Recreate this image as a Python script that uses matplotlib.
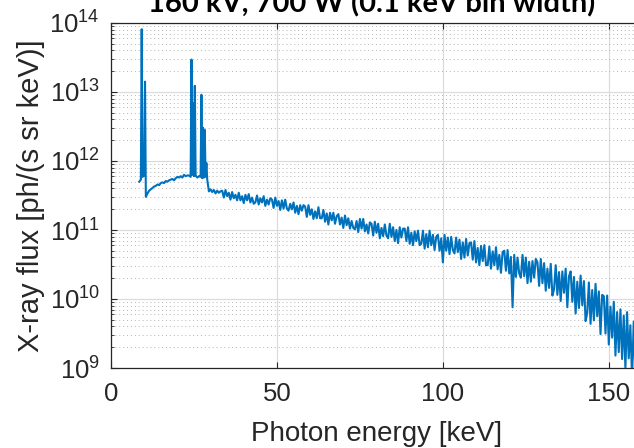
import numpy as np
import matplotlib
matplotlib.use("Agg")
import matplotlib.pyplot as plt
from matplotlib.ticker import LogLocator, NullFormatter

# ---------------- data ----------------
title_text = "160 kV, 700 W (0.1 keV bin width)"
x_label = "Photon energy [keV]"
y_label = "X-ray flux [ph/(s sr keV)]"
x_ticks = [0, 50, 100, 150]
x_limits = (0, 160)
y_limits = (1e9, 1e14)

# continuum bins (log10 of flux)
bin_start_kev = 8.5
bin_step_kev = 0.5
continuum_log_flux = [
    11.70, 11.73, 11.77, 11.79, 11.48, 11.53, 11.57, 11.59, 11.61, 11.63,   # 8.5-13
    11.64, 11.66, 11.65, 11.68, 11.69, 11.68, 11.71, 11.70, 11.72, 11.73,   # 13.5-18
    11.74, 11.72, 11.75, 11.77, 11.76, 11.78, 11.76, 11.80, 11.78, 11.79,   # 18.5-23
    11.79, 11.77, 11.80, 11.78, 11.79, 11.76, 11.78, 11.77, 11.75, 11.76,   # 23.5-28
    11.77, 11.73, 11.56, 11.59, 11.55, 11.58, 11.53, 11.57, 11.54, 11.56,   # 28.5-33
    11.57, 11.47, 11.58, 11.49, 11.54, 11.44, 11.55, 11.46, 11.51, 11.43,   # 33.5-38
    11.54, 11.43, 11.49, 11.39, 11.51, 11.43, 11.52, 11.40, 11.47, 11.38,   # 38.5-43
    11.40, 11.50, 11.37, 11.46, 11.40, 11.49, 11.35, 11.44, 11.37, 11.46,   # 43.5-48
    11.44, 11.32, 11.47, 11.35, 11.42, 11.29, 11.43, 11.31, 11.44, 11.31,   # 48.5-53
    11.28, 11.38, 11.30, 11.40, 11.25, 11.35, 11.23, 11.36, 11.28, 11.36,   # 53.5-58
    11.34, 11.19, 11.36, 11.22, 11.30, 11.16, 11.27, 11.17, 11.33, 11.17,   # 58.5-63
    11.17, 11.29, 11.12, 11.24, 11.08, 11.25, 11.14, 11.25, 11.09, 11.20,   # 63.5-68
    11.23, 11.08, 11.18, 11.03, 11.21, 11.07, 11.17, 11.02, 11.13, 11.03,   # 68.5-73
    11.01, 11.13, 10.97, 11.16, 11.02, 11.16, 10.98, 11.08, 10.95, 11.11,   # 73.5-78
    11.09, 10.92, 11.12, 10.96, 11.09, 10.88, 11.03, 10.91, 11.08, 10.92,   # 78.5-83
    10.88, 11.09, 10.90, 11.04, 10.84, 11.00, 10.81, 11.04, 10.89, 11.02,   # 83.5-88
    11.02, 10.84, 11.04, 10.80, 10.96, 10.78, 10.98, 10.84, 10.99, 10.78,   # 88.5-93
    10.80, 10.99, 10.73, 10.94, 10.75, 10.99, 10.78, 10.93, 10.71, 10.90,   # 93.5-98
    10.93, 10.70, 10.88, 10.53, 10.93, 10.70, 10.89, 10.65, 10.90, 10.71,   # 98.5-103
    10.66, 10.89, 10.68, 10.86, 10.58, 10.82, 10.60, 10.87, 10.63, 10.81,   # 103.5-108
    10.82, 10.57, 10.84, 10.53, 10.74, 10.49, 10.77, 10.55, 10.78, 10.49,   # 108.5-113
    10.49, 10.76, 10.44, 10.69, 10.49, 10.75, 10.43, 10.64, 10.38, 10.68,   # 113.5-118
    10.70, 10.41, 10.71, 10.37, 10.61, 9.88, 10.64, 10.32, 10.60, 10.37,    # 118.5-123
    10.31, 10.64, 10.33, 10.60, 10.23, 10.54, 10.25, 10.55, 10.31, 10.58,   # 123.5-128
    10.53, 10.19, 10.58, 10.23, 10.52, 10.12, 10.44, 10.16, 10.51, 10.05,   # 128.5-133
    10.14, 10.49, 10.06, 10.39, 9.97, 10.40, 10.09, 10.44, 9.88, 10.33,     # 133.5-138
    10.40, 9.96, 10.32, 9.79, 10.25, 9.87, 10.34, 9.91, 10.26, 9.68,        # 138.5-143
    9.80, 10.24, 9.64, 10.13, 9.69, 10.22, 9.75, 10.11, 9.49, 10.06,        # 143.5-148
    10.04, 9.50, 10.05, 9.34, 9.89, 9.44, 9.96, 9.18, 9.81, 9.23,           # 148.5-153
    9.85, 9.13, 9.76, 8.98, 9.81, 9.14, 9.62, 8.85, 9.67, 8.95,             # 153.5-158
    9.60, 8.90, 9.50, 8.85,                                                 # 158.5-160
]

# characteristic lines (W L lines and K lines)
peak_energy_kev = [9.25, 10.25, 24.25, 24.75, 25.25, 27.25, 27.75, 28.25, 28.75]
peak_log_flux = [13.91, 13.15, 13.47, 12.84, 13.09, 12.96, 12.48, 12.45, 11.97]

# ---------------- build series ----------------
cont_energy = bin_start_kev + bin_step_kev * np.arange(len(continuum_log_flux))
energy = np.concatenate([cont_energy, np.array(peak_energy_kev)])
log_flux = np.concatenate([np.array(continuum_log_flux), np.array(peak_log_flux)])
order = np.argsort(energy, kind="stable")
energy = energy[order]
flux = 10.0 ** log_flux[order]

# ---------------- figure ----------------
plt.rcParams['font.family'] = ['Liberation Sans', 'DejaVu Sans']
plt.rcParams['mathtext.default'] = 'regular'
text_color = '#262626'

fig = plt.figure(figsize=(6.34, 4.48), dpi=100)
ax = fig.add_axes([111 / 634, 80 / 448, 531 / 634, 345 / 448])

ax.plot(energy, flux, color='#0072BD', lw=1.5, zorder=3)

ax.set_yscale('log')
ax.set_xlim(*x_limits)
ax.set_ylim(*y_limits)
ax.set_xticks(x_ticks)
ax.yaxis.set_major_locator(LogLocator(base=10, numticks=10))
ax.yaxis.set_minor_locator(LogLocator(base=10, subs=np.arange(2, 10), numticks=60))
ax.yaxis.set_minor_formatter(NullFormatter())

ax.set_axisbelow(True)
ax.grid(which='major', color='#dadada', lw=0.8)
ax.grid(which='minor', axis='y', color='#b5b5b5', lw=0.7, linestyle=(0, (1, 3)))

ax.tick_params(which='both', direction='in', top=True, right=True,
               colors=text_color, labelsize=18.5)
ax.tick_params(which='major', length=4, width=0.8)
ax.tick_params(which='minor', length=2.5, width=0.6)
ax.tick_params(axis='x', pad=10)
ax.tick_params(axis='y', pad=8)
for sp in ax.spines.values():
    sp.set_color(text_color)
    sp.set_linewidth(0.9)

ax.set_xlabel(x_label, fontsize=20, color=text_color, labelpad=11)
ax.set_ylabel(y_label, fontsize=21, color=text_color, labelpad=3)

fig.text(372 / 634, 1 - 12 / 448, title_text, ha='center', va='baseline',
         fontsize=21, fontweight='bold', family=['Lato', 'DejaVu Sans'],
         color='black')

fig.savefig('out.png', dpi=100)
